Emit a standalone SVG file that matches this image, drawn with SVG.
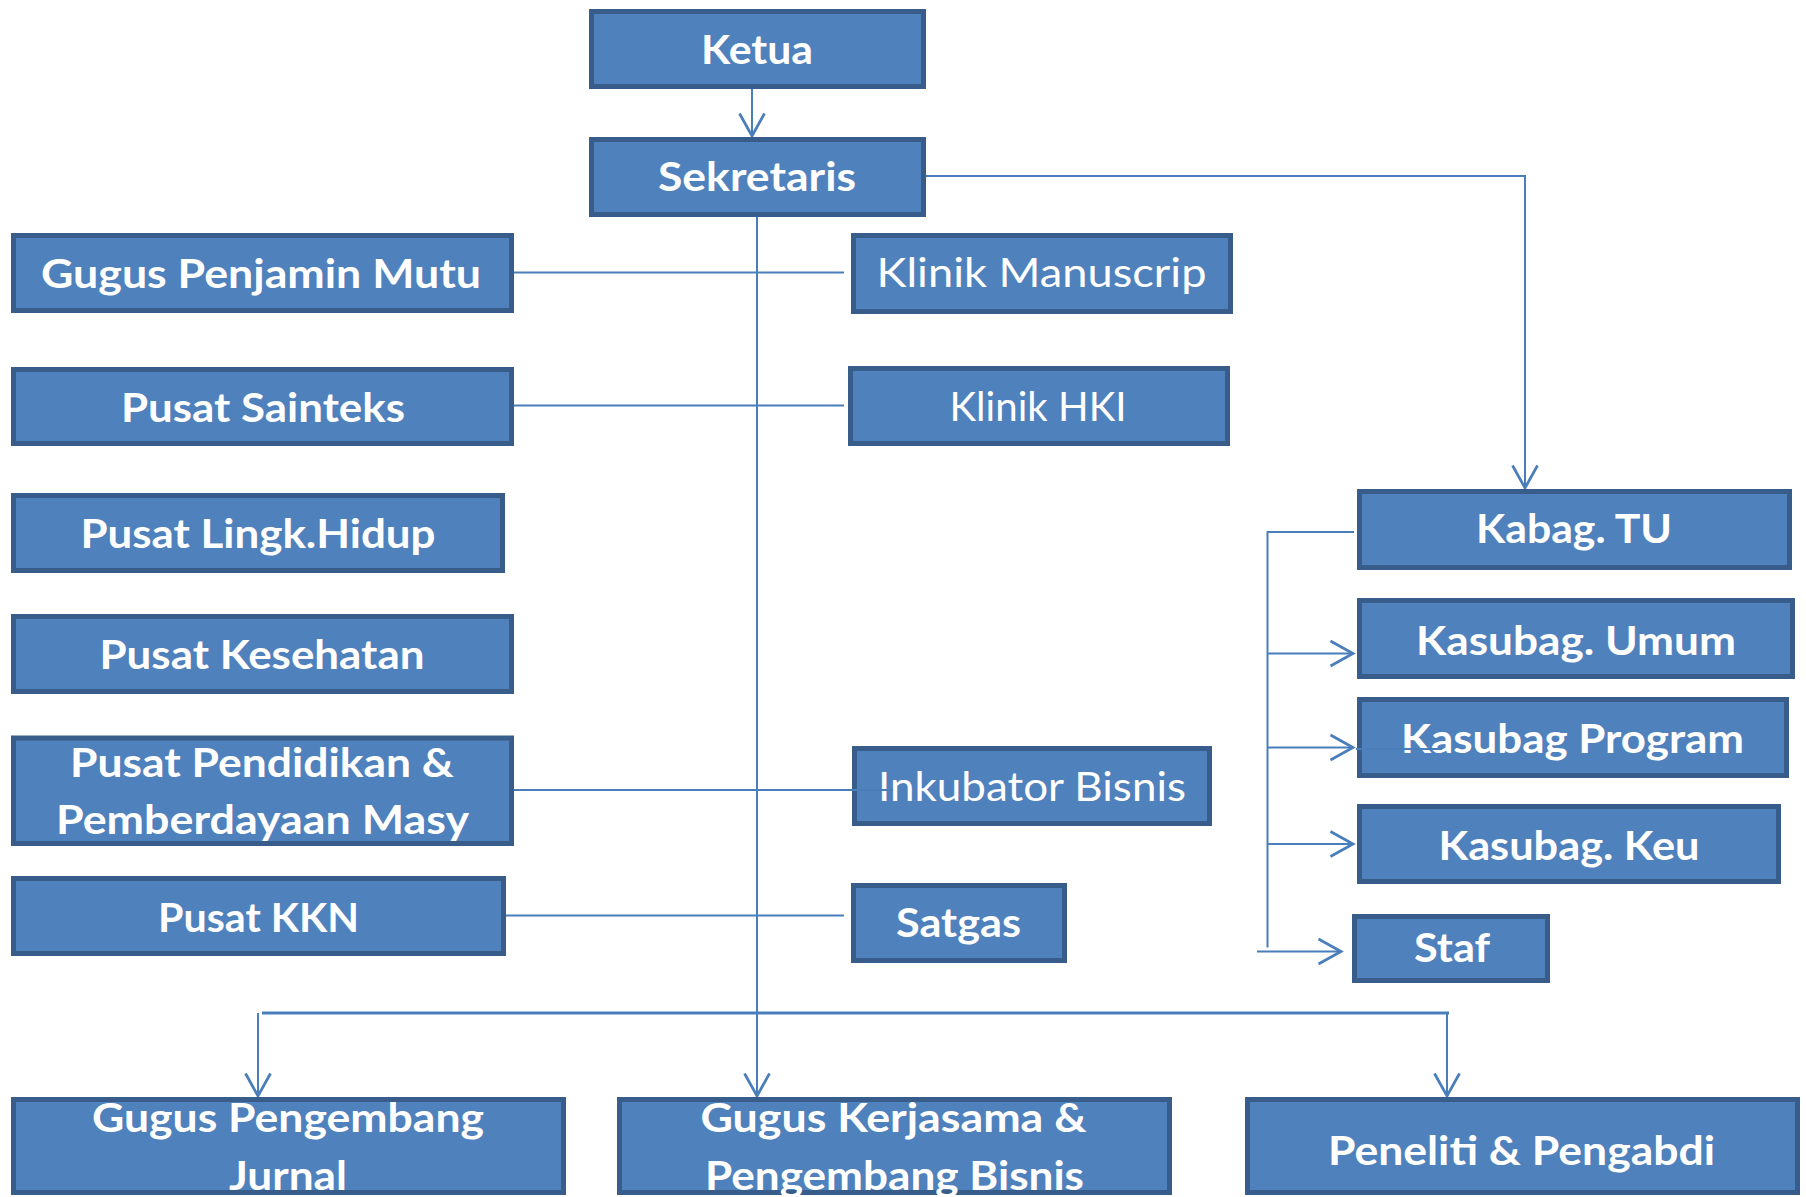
<svg xmlns="http://www.w3.org/2000/svg" width="1806" height="1197" viewBox="0 0 1806 1197">
<defs>
<marker id="arr" markerUnits="userSpaceOnUse" markerWidth="30" markerHeight="30" viewBox="-20 -12 22 24" refX="0" refY="0" orient="auto">
<path d="M-18,-10 L0,0 L-18,10" fill="none" stroke="#4A7EBB" stroke-width="2.2"/>
</marker>
</defs>
<style>
.box{fill:#4F81BD;stroke:#385D8A;stroke-width:5}
.t{font-family:Lato,"Open Sans","Liberation Sans",sans-serif;font-size:40px;fill:#FFFFFF;text-anchor:middle}
.b{font-weight:700}
.r{font-weight:400}
.c{fill:none;stroke:#4A7EBB;stroke-width:2}
</style>
<rect width="1806" height="1197" fill="#FFFFFF"/>
<g id="connectors">
<path class="c" d="M752,89 V136" marker-end="url(#arr)"/>
<path class="c" d="M926,176 H1525 V488" marker-end="url(#arr)"/>
<path class="c" d="M757,217 V1096" marker-end="url(#arr)"/>
<path class="c" d="M514,272.5 H844"/>
<path class="c" d="M514,405.5 H844"/>
<path class="c" d="M514,790 H852"/>
<path class="c" d="M506,915.5 H844"/>
<path class="c" d="M1354,532 H1267.5 V947.5"/>
<path class="c" d="M1267.5,653.5 H1353" marker-end="url(#arr)"/>
<path class="c" d="M1267.5,747.5 H1353" marker-end="url(#arr)"/>
<path class="c" d="M1267.5,844 H1353" marker-end="url(#arr)"/>
<path class="c" d="M1257,951.5 H1341" marker-end="url(#arr)"/>
<path class="c" d="M262,1013 H1449" style="stroke-width:3"/>
<path class="c" d="M258,1013 V1096" marker-end="url(#arr)"/>
<path class="c" d="M1447,1013 V1096" marker-end="url(#arr)"/>
</g>
<g id="ketua"><rect class="box" x="591.5" y="11.5" width="332" height="75"/><text class="t b" x="757" y="64" textLength="112" lengthAdjust="spacingAndGlyphs">Ketua</text></g>
<g id="sekretaris"><rect class="box" x="591.5" y="139.5" width="332" height="75"/><text class="t b" x="757" y="191" textLength="198" lengthAdjust="spacingAndGlyphs">Sekretaris</text></g>
<g id="gugus-penjamin-mutu"><rect class="box" x="13.5" y="235.5" width="498" height="75"/><text class="t b" x="261" y="288" textLength="440" lengthAdjust="spacingAndGlyphs">Gugus Penjamin Mutu</text></g>
<g id="klinik-manuscrip"><rect class="box" x="853.5" y="235.5" width="377" height="76"/><text class="t r" x="1041.5" y="287" textLength="330" lengthAdjust="spacingAndGlyphs">Klinik  Manuscrip</text></g>
<g id="pusat-sainteks"><rect class="box" x="13.5" y="369.5" width="498" height="74"/><text class="t b" x="263" y="422" textLength="284" lengthAdjust="spacingAndGlyphs">Pusat Sainteks</text></g>
<g id="klinik-hki"><rect class="box" x="850.5" y="368.5" width="377" height="75"/><text class="t r" x="1038" y="421" textLength="177" lengthAdjust="spacingAndGlyphs">Klinik HKI</text></g>
<g id="pusat-lingk-hidup"><rect class="box" x="13.5" y="495.5" width="489" height="75"/><text class="t b" x="258" y="548" textLength="355" lengthAdjust="spacingAndGlyphs">Pusat Lingk.Hidup</text></g>
<g id="pusat-kesehatan"><rect class="box" x="13.5" y="616.5" width="498" height="75"/><text class="t b" x="262" y="669" textLength="325" lengthAdjust="spacingAndGlyphs">Pusat Kesehatan</text></g>
<g id="pusat-pendidikan"><rect class="box" x="13.5" y="738" width="498" height="105.5"/><text class="t b" x="262" y="777" textLength="384" lengthAdjust="spacingAndGlyphs">Pusat Pendidikan &amp;</text><text class="t b" x="262.5" y="834" textLength="413" lengthAdjust="spacingAndGlyphs">Pemberdayaan Masy</text></g>
<g id="inkubator-bisnis"><rect class="box" x="854.5" y="748.5" width="355" height="75"/><text class="t r" x="1032" y="801" textLength="308" lengthAdjust="spacingAndGlyphs">Inkubator Bisnis</text><path d="M852,790 H893" fill="none" stroke="#4A7EBB" stroke-width="2"/></g>
<g id="pusat-kkn"><rect class="box" x="13.5" y="878.5" width="490" height="75"/><text class="t b" x="258.5" y="932" textLength="201" lengthAdjust="spacingAndGlyphs">Pusat KKN</text></g>
<g id="satgas"><rect class="box" x="853.5" y="885.5" width="211" height="75"/><text class="t b" x="958.5" y="937" textLength="125" lengthAdjust="spacingAndGlyphs">Satgas</text></g>
<g id="kabag-tu"><rect class="box" x="1359.5" y="491.5" width="430" height="76"/><text class="t b" x="1574" y="543" textLength="196" lengthAdjust="spacingAndGlyphs">Kabag. TU</text></g>
<g id="kasubag-umum"><rect class="box" x="1359.5" y="600.5" width="433" height="76"/><text class="t b" x="1576" y="655" textLength="320" lengthAdjust="spacingAndGlyphs">Kasubag. Umum</text></g>
<g id="kasubag-program"><rect class="box" x="1359.5" y="699.5" width="427" height="76"/><text class="t b" x="1572.5" y="753" textLength="343" lengthAdjust="spacingAndGlyphs">Kasubag Program</text><path d="M1356,749 H1442" fill="none" stroke="#4A7EBB" stroke-width="2"/></g>
<g id="kasubag-keu"><rect class="box" x="1359.5" y="806.5" width="419" height="75"/><text class="t b" x="1569" y="859.5" textLength="261" lengthAdjust="spacingAndGlyphs">Kasubag. Keu</text></g>
<g id="staf"><rect class="box" x="1354.5" y="916.5" width="193" height="64"/><text class="t b" x="1452" y="961.5" textLength="76" lengthAdjust="spacingAndGlyphs">Staf</text></g>
<g id="gugus-pengembang-jurnal"><rect class="box" x="13.5" y="1099.5" width="550" height="93"/><text class="t b" x="288" y="1132" textLength="392" lengthAdjust="spacingAndGlyphs">Gugus Pengembang</text><text class="t b" x="288" y="1190" textLength="118" lengthAdjust="spacingAndGlyphs">Jurnal</text></g>
<g id="gugus-kerjasama"><rect class="box" x="619.5" y="1099.5" width="550" height="93"/><text class="t b" x="893.5" y="1132" textLength="386" lengthAdjust="spacingAndGlyphs">Gugus Kerjasama &amp;</text><text class="t b" x="894.5" y="1190" textLength="379" lengthAdjust="spacingAndGlyphs">Pengembang Bisnis</text></g>
<g id="peneliti-pengabdi"><rect class="box" x="1247.5" y="1099.5" width="550" height="93"/><text class="t b" x="1521.5" y="1165" textLength="387" lengthAdjust="spacingAndGlyphs">Peneliti &amp; Pengabdi</text></g>
</svg>
